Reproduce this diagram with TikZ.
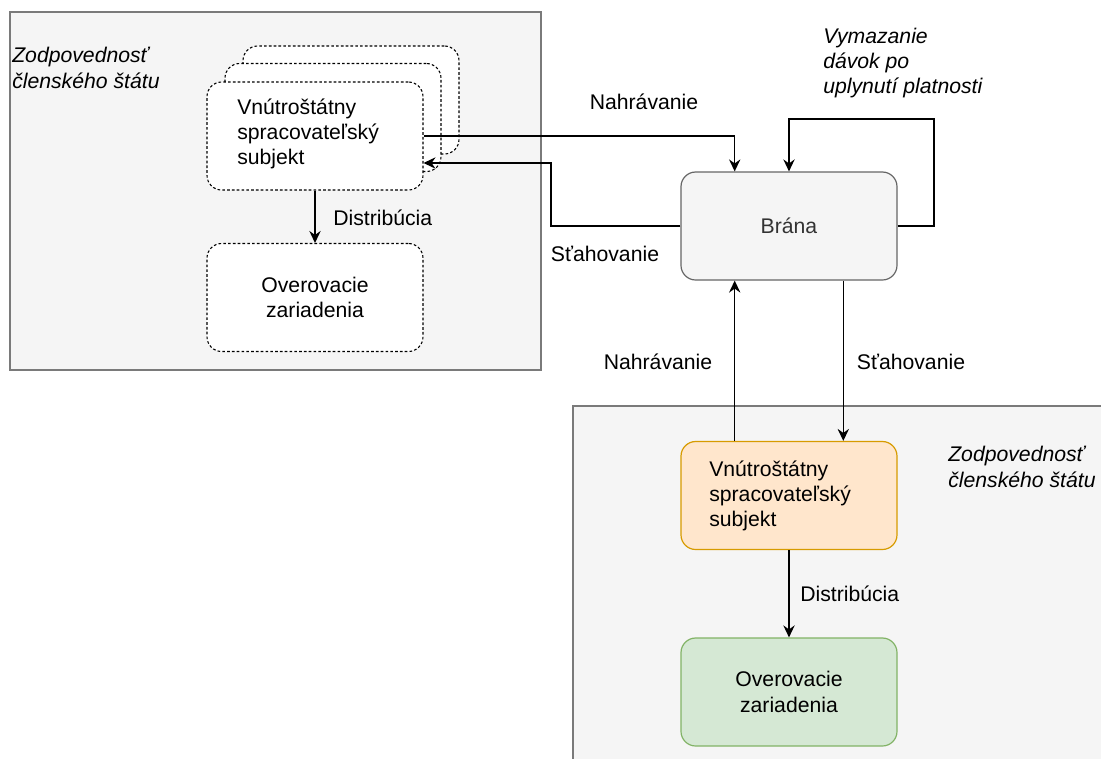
\documentclass[tikz,border=0pt]{standalone}
\usepackage{fontspec}
\setmainfont{Liberation Sans}
\usetikzlibrary{arrows.meta,calc}
\definecolor{grpfill}{HTML}{F5F5F5}
\definecolor{grpline}{HTML}{7A7A7A}
\definecolor{brfill}{HTML}{F5F5F5}
\definecolor{brline}{HTML}{666666}
\definecolor{brtext}{HTML}{333333}
\definecolor{orfill}{HTML}{FFE6CC}
\definecolor{orline}{HTML}{D79B00}
\definecolor{grfill}{HTML}{D5E8D4}
\definecolor{grline}{HTML}{82B366}
\tikzset{
  txt/.style={font=\fontsize{15.9pt}{19pt}\selectfont, inner sep=0pt, align=left},
  itxt/.style={txt, font=\fontsize{15.9pt}{19pt}\selectfont\itshape},
  boxbase/.style={rectangle, rounded corners=11pt, minimum width=162pt, minimum height=81pt, inner sep=0pt},
  dashbox/.style={boxbase, draw=black, fill=white, line width=0.8pt, dash pattern=on 2pt off 1.6pt},
  grp/.style={draw=grpline, fill=grpfill, line width=1.3pt},
  conn/.style={draw=black, line width=1.1pt, -{Stealth[length=9pt,width=8.5pt,inset=3pt]}},
}
\begin{document}
\begin{tikzpicture}[x=0.75pt,y=-0.75pt]
\useasboundingbox (0,0) rectangle (1101,758);
\begin{scope}
\clip (0,0) rectangle (1101,758);
% groups
\draw[grp] (10,12) rectangle (541,370);
\draw[grp] (573,406) rectangle (1120,780);
\end{scope}
\node[itxt, anchor=west] (lblL) at (12,68) {Zodpovednosť\\členského štátu};
\node[itxt, anchor=west] (lblR) at (948,467) {Zodpovednosť\\členského štátu};
% stack
\node[dashbox] (back) at (351,100) {};
\node[dashbox] (mid) at (333,117.5) {};
\node[dashbox] (front) at (315,136) {};
\node[txt, anchor=west] (fronttxt) at (237,134) {Vnútroštátny\\spracovateľský\\subjekt};
\node[dashbox] (devL) at (315,297.5) {};
\node[txt, align=center] (devLtxt) at (315,297.5) {Overovacie\\zariadenia};
% gateway
\node[boxbase, draw=brline, fill=brfill, line width=0.9pt, text=brtext, font=\fontsize{15.9pt}{19pt}\selectfont] (brana) at (789,226) {Brána};
% bottom nodes
\node[boxbase, draw=orline, fill=orfill, line width=0.9pt] (orange) at (789,495.5) {};
\node[txt, anchor=west] (orangetxt) at (709,496) {Vnútroštátny\\spracovateľský\\subjekt};
\node[boxbase, draw=grline, fill=grfill, line width=0.9pt] (green) at (789,692) {};
\node[txt, align=center] (greentxt) at (789,692) {Overovacie\\zariadenia};
% helper coordinates
\coordinate (bq1) at ($(brana.north west)!0.25!(brana.north east)$);
\coordinate (bq1s) at ($(brana.south west)!0.25!(brana.south east)$);
\coordinate (bq3s) at ($(brana.south west)!0.75!(brana.south east)$);
\coordinate (oq1) at ($(orange.north west)!0.25!(orange.north east)$);
\coordinate (oq3) at ($(orange.north west)!0.75!(orange.north east)$);
\coordinate (fin) at ($(front.east)+(0,27)$);
\coordinate (sbend) at (551,226);
\coordinate (loopR) at (934,226);
\coordinate (loopT) at (789,119);
% connectors
\draw[conn] (front.east) -| (bq1);
\draw[conn] (brana.west) -- (sbend) |- (fin);
\draw[conn] (brana.east) -- (loopR) |- (loopT) -- (brana.north);
\draw[conn] (front.south) -- (devL.north);
\draw[conn] (oq1) -- (bq1s);
\draw[conn] (bq3s) -- (oq3);
\draw[conn] (orange.south) -- (green.north);
% labels
\node[txt, anchor=center] (lNahr1) at (644,102) {Nahrávanie};
\node[txt, anchor=center] (lStah1) at (605,254) {Sťahovanie};
\node[itxt, anchor=west] (lVym) at (823,63) {Vymazanie\\dávok po\\uplynutí platnosti};
\node[txt, anchor=west] (lDistL) at (333,218) {Distribúcia};
\node[txt, anchor=center] (lNahr2) at (658,362) {Nahrávanie};
\node[txt, anchor=center] (lStah2) at (911,362) {Sťahovanie};
\node[txt, anchor=west] (lDistR) at (800,594) {Distribúcia};
\end{tikzpicture}
\end{document}
